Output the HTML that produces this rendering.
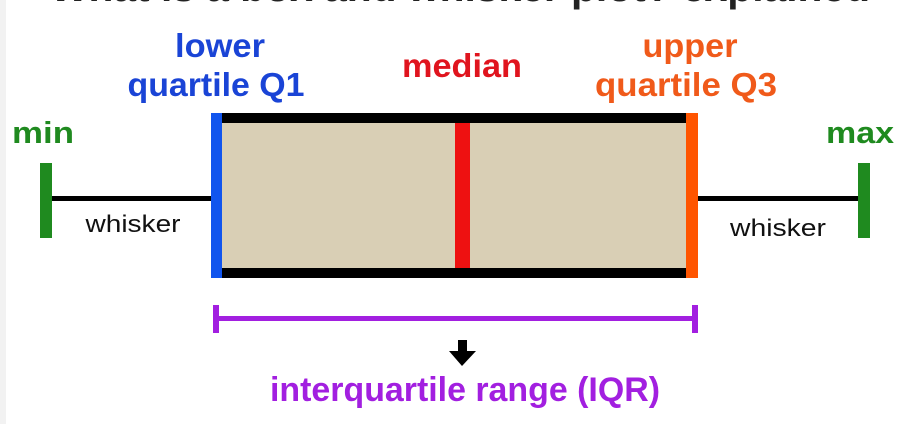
<!DOCTYPE html>
<html><head><meta charset="utf-8"><style>
body{margin:0;background:#fff;width:907px;height:424px;overflow:hidden;font-family:"Liberation Sans",sans-serif}
svg{display:block}
</style></head><body>
<svg id="c" width="907" height="424">
<rect x="0" y="0" width="907" height="424" fill="#fff"/>
<rect x="0" y="0" width="6" height="424" fill="#f2f2f2"/>
<text x="460" y="1" text-anchor="middle" font-size="40" font-weight="bold" fill="#222" textLength="820" lengthAdjust="spacingAndGlyphs">What is a box and whisker plot? explained</text>
</svg>
<script>
const statNames=["min","q1","median","q3","max"];
const statValues=[0,17,41.6,64.6,81.8];
const svg=document.getElementById('c');
const NS='http://www.w3.org/2000/svg';
const x=v=>46+v*10;
function mk(tag,attrs,name){const e=document.createElementNS(NS,tag);for(const k in attrs)e.setAttribute(k,attrs[k]);


svg.appendChild(e);return e;}
function txt(s,xx,yy,fill,size,weight,len,name){const t=mk('text',{x:xx,y:yy,fill:fill,'font-size':size,'font-weight':weight,'text-anchor':'middle','font-family':'Liberation Sans, sans-serif',textLength:len,lengthAdjust:'spacingAndGlyphs'},name);t.textContent=s;return t;}
const [mn,q1,md,q3,mx]=statValues.map(x);
const wy=199;
mk('rect',{x:mn,y:wy-3,width:q1-mn,height:5,fill:'#000'},'left-whisker');
mk('rect',{x:q3,y:wy-3,width:mx-q3,height:5,fill:'#000'},'right-whisker');
mk('rect',{x:q1,y:113,width:q3-q1,height:165,fill:'#d9cfb5'},'iqr-box');
mk('rect',{x:q1,y:113,width:q3-q1,height:10,fill:'#000'},'box-top-edge');
mk('rect',{x:q1,y:268,width:q3-q1,height:10,fill:'#000'},'box-bottom-edge');
mk('rect',{x:q1-5,y:113,width:11,height:165,fill:'#1155ee'},'q1-line');
mk('rect',{x:q3-6,y:113,width:12,height:165,fill:'#ff5500'},'q3-line');
mk('rect',{x:md-7,y:123,width:15,height:145,fill:'#ee1111'},'median-line');
mk('rect',{x:mn-6,y:163,width:12,height:75,fill:'#1f8a1f'},'min-cap');
mk('rect',{x:mx-6,y:163,width:12,height:75,fill:'#1f8a1f'},'max-cap');
mk('rect',{x:q1-3,y:316,width:q3-q1+6,height:5,fill:'#a21fe0'},'iqr-bracket-line');
mk('rect',{x:q1-3,y:305,width:6,height:28,fill:'#a21fe0'},'iqr-bracket-left');
mk('rect',{x:q3+0,y:305,width:6,height:28,fill:'#a21fe0'},'iqr-bracket-right');
const ax=(q1+q3)/2+8;
mk('rect',{x:ax-4,y:340,width:9,height:12,fill:'#000'},'arrow-shaft');
mk('polygon',{points:`${ax-13},351 ${ax+14},351 ${ax},366`,fill:'#000'},'arrow-head');
txt('lower',q1+4,57,'#1a44d6',33,'bold',90,'q1-label-line1');
txt('quartile Q1',q1,96,'#1a44d6',33,'bold',177,'q1-label-line2');
txt('median',md,77,'#e0141e',33,'bold',120,'median-label');
txt('upper',q3-2,57,'#f05a1a',33,'bold',95,'q3-label-line1');
txt('quartile Q3',q3-6,96,'#f05a1a',33,'bold',182,'q3-label-line2');
txt('min',mn-3,143,'#1f8a1f',31,'bold',62,'min-label');
txt('max',mx-4,143,'#1f8a1f',31,'bold',68,'max-label');
txt('whisker',133,232,'#111',24,'normal',95,'left-whisker-label');
txt('whisker',778,236,'#111',24,'normal',96,'right-whisker-label');
txt('interquartile range (IQR)',465,401,'#a21fe0',34,'bold',390,'iqr-label');
</script>
</body></html>
